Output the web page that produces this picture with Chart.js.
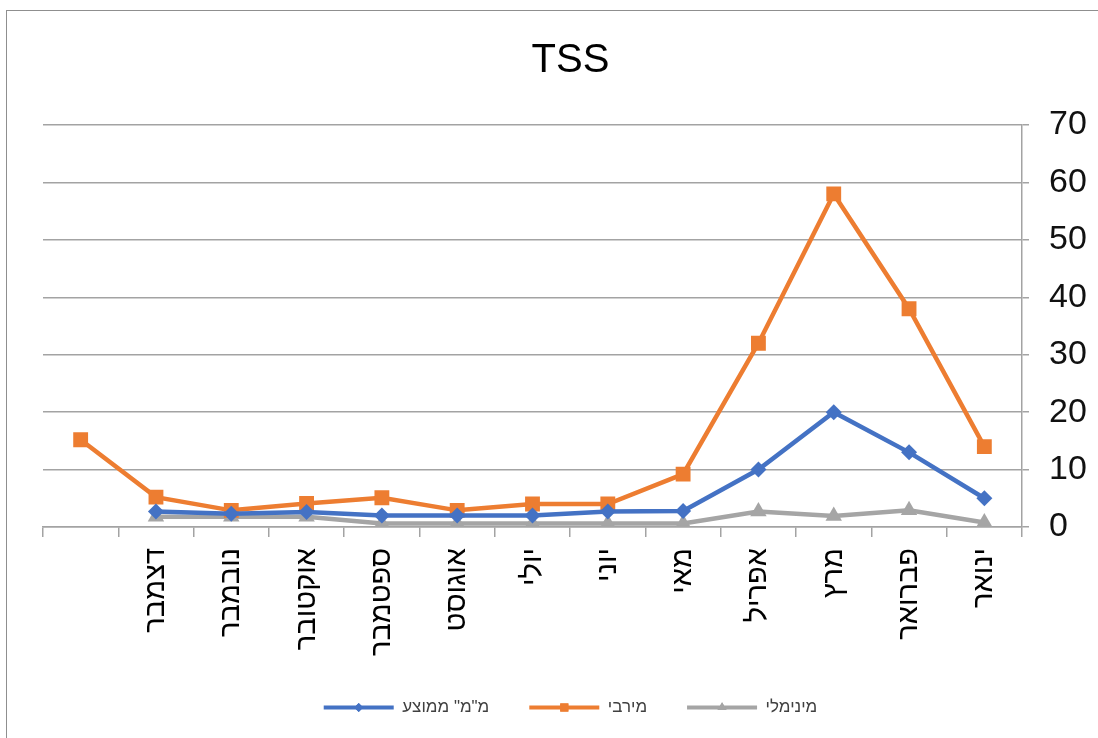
<!DOCTYPE html>
<html>
<head>
<meta charset="utf-8">
<script src="https://cdn.jsdelivr.net/npm/chart.js@4/dist/chart.umd.min.js"></script>
<style>
  html, body { margin: 0; padding: 0; background: #fff; overflow: hidden; }
  #wrap { position: relative; width: 1098px; height: 738px; }
  #frame { position: absolute; left: 6px; top: 10px; width: 1200px; height: 800px; border: 1px solid #8f8f8f; }
  canvas { position: absolute; left: 0; top: 0; }
</style>
</head>
<body>
<div id="wrap">
  <div id="frame"></div>
  <canvas id="tssChart" width="1098" height="738"></canvas>
</div>
<script>
// data, January first (the axis is drawn reversed, right to left)
const months = ["ינואר", "פברואר", "מרץ", "אפריל", "מאי", "יוני", "יולי", "אוגוסט", "ספטמבר", "אוקטובר", "נובמבר", "דצמבר", ""];
const avgValues = [5, 13, 20, 10, 2.8, 2.7, 2, 2, 2, 2.6, 2.3, 2.7, null];
const maxValues = [14, 38, 58, 32, 9.2, 4, 4, 2.9, 5.1, 4.1, 2.9, 5.2, 15.2];
const minValues = [0.8, 2.9, 1.9, 2.7, 0.6, 0.6, 0.6, 0.6, 0.6, 1.8, 1.8, 1.8, null];
const yTicks = [0, 10, 20, 30, 40, 50, 60, 70];

const seriesNames = ['מ"מ" ממוצע', "מירבי", "מינימלי"];
const seriesColors = ["#4472C4", "#ED7D31", "#A5A5A5"];
const seriesMarkers = ["rectRot", "rect", "triangle"];
const markerRadius = [8, 10.5, 9.5];

const FONT = "'Liberation Sans', Arial, sans-serif";
const GRID = "#a3a3a3";

function makeSet(i, values) {
    return {
        label: seriesNames[i],
        data: values,
        borderColor: seriesColors[i],
        backgroundColor: seriesColors[i],
        borderWidth: 4.5,
        pointStyle: seriesMarkers[i],
        pointRadius: markerRadius[i],
        pointBackgroundColor: seriesColors[i],
        pointBorderWidth: 0,
        tension: 0,
        spanGaps: false
    };
}

// little markers on top of the legend lines
const legendMarkers = {
    id: "legendMarkers",
    afterDraw(chart) {
        const legend = chart.legend;
        if (!legend || !legend.legendHitBoxes) return;
        const ctx = chart.ctx;
        const bw = legend.options.labels.boxWidth;
        const fs = legend.options.labels.font.size;
        legend.legendHitBoxes.forEach((hb, i) => {
            ctx.save();
            ctx.fillStyle = seriesColors[i];
            Chart.helpers.drawPoint(ctx, { pointStyle: seriesMarkers[i], radius: markerRadius[i] * 0.55, borderWidth: 0 },
                hb.left + bw / 2, hb.top + fs / 2);
            ctx.fill();
            ctx.restore();
        });
    }
};

new Chart(document.getElementById("tssChart"), {
    type: "line",
    data: {
        labels: months,
        datasets: [makeSet(0, avgValues), makeSet(1, maxValues), makeSet(2, minValues)]
    },
    plugins: [legendMarkers],
    options: {
        responsive: false,
        animation: false,
        layout: { padding: { left: 43, right: 0, top: 0, bottom: 12 } },
        plugins: {
            title: {
                display: true,
                text: "TSS",
                color: "#000",
                font: { family: FONT, size: 40, weight: "normal" },
                padding: { top: 37, bottom: 40 }
            },
            legend: {
                position: "bottom",
                labels: {
                    boxWidth: 70,
                    boxHeight: 4,
                    padding: 40,
                    color: "#404040",
                    font: { family: FONT, size: 17 },
                    generateLabels: (chart) =>
                        Chart.defaults.plugins.legend.labels.generateLabels(chart).map(l => ({ ...l, lineWidth: 0 }))
                }
            },
            tooltip: { enabled: false }
        },
        scales: {
            x: {
                reverse: true,
                offset: true,
                grid: { offset: true, drawOnChartArea: false, drawTicks: true, tickLength: 10, color: GRID, lineWidth: 1.5 },
                border: { display: true, color: GRID, width: 1.5 },
                ticks: {
                    minRotation: 90,
                    maxRotation: 90,
                    autoSkip: false,
                    padding: 11,
                    color: "#000",
                    font: { family: FONT, size: 29 }
                },
                afterFit: (scale) => { scale.height = 132; }
            },
            y: {
                position: "right",
                min: 0,
                max: 70,
                afterBuildTicks: (scale) => { scale.ticks = yTicks.map(v => ({ value: v })); },
                grid: { color: GRID, lineWidth: 1.5, tickLength: 7 },
                border: { display: true, color: GRID, width: 1.5 },
                ticks: {
                    padding: 20,
                    color: "#111",
                    font: { family: FONT, size: 34 }
                },
                afterFit: (scale) => { scale.width = 76; }
            }
        }
    }
});
</script>
</body>
</html>
